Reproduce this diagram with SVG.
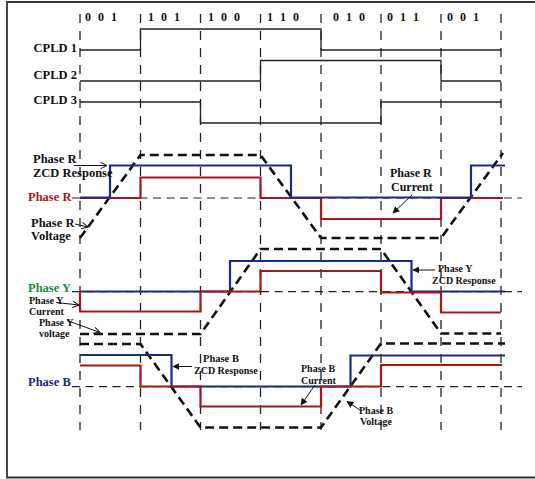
<svg xmlns="http://www.w3.org/2000/svg" width="535" height="479" viewBox="0 0 535 479">
<defs>
<style>
text{font-family:"Liberation Serif","Times New Roman",serif;font-weight:bold;fill:#111}
.dig{font-size:12px;letter-spacing:2px}
.lb{font-size:12.5px}
.sm{font-size:10px}
.grid{stroke:#222;stroke-width:1.3;stroke-dasharray:9 8;fill:none}
.axis{stroke:#222;stroke-width:1.2;stroke-dasharray:8 5.5;fill:none}
.cpld{stroke:#222;stroke-width:1.3;fill:none}
.zcd{stroke:#1c2a80;stroke-width:2.2;fill:none}
.cur{stroke:#a8161c;stroke-width:2.2;fill:none}
.volt{stroke:#111;stroke-width:2.6;stroke-dasharray:9 5;fill:none}
.ar{stroke:#111;stroke-width:1;fill:none}
.open{stroke:#111;stroke-width:1;fill:none}
</style>
<marker id="fh" viewBox="0 0 10 10" refX="9" refY="5" markerWidth="7" markerHeight="7" orient="auto" markerUnits="userSpaceOnUse">
<path d="M0,0 L10,5 L0,10 Z" fill="#111"/>
</marker>
<marker id="oh" viewBox="0 0 10 10" refX="9" refY="5" markerWidth="8" markerHeight="8" orient="auto" markerUnits="userSpaceOnUse">
<path d="M1,1 L9,5 L1,9" fill="none" stroke="#111" stroke-width="1.2"/>
</marker>
</defs>
<rect width="535" height="479" fill="#fff"/>
<g id="frame" stroke="#333" stroke-width="1.8" fill="none">
<path d="M535,2 H7 V477.5 H535"/>
</g>
<g id="grid">
<path class="grid" d="M80,14V430M140.5,14V430M200.5,14V430M260.5,14V430M321,14V430M381,14V430M441,14V430M501,14V430"/>
<path class="axis" d="M72,198H522M72,291.7H522M72,386.7H522"/>
</g>
<g id="states">
<text class="dig" x="85" y="21">0 0 1</text>
<text class="dig" x="148" y="21">1 0 1</text>
<text class="dig" x="208" y="21">1 0 0</text>
<text class="dig" x="267" y="21">1 1 0</text>
<text class="dig" x="333" y="21">0 1 0</text>
<text class="dig" x="387" y="21">0 1 1</text>
<text class="dig" x="447" y="21">0 0 1</text>
</g>
<g id="cpld1">
<text class="lb" x="77" y="52" text-anchor="end">CPLD 1</text>
<path class="cpld" d="M80,50H140.5V29H321V50H501"/>
</g>
<g id="cpld2">
<text class="lb" x="77" y="79" text-anchor="end">CPLD 2</text>
<path class="cpld" d="M80,81H260.5V60.5H441V81H501"/>
</g>
<g id="cpld3">
<text class="lb" x="77" y="104" text-anchor="end">CPLD 3</text>
<path class="cpld" d="M80,102H200.5V123H381V102H501"/>
</g>
<g id="phaseR">
<path class="volt" d="M80,238L140.5,155H260.5L321,238H441L503,153"/>
<path class="cur" d="M80,198H140.5V177.5H260.5V198H321V219H441V198H503"/>
<path class="zcd" d="M80,197.5H110V165.5H291V197.5H471V165.5H505"/>
<text class="lb" x="33" y="163">Phase R</text>
<text class="lb" x="33" y="177">ZCD Response</text>
<text class="lb" x="28" y="201" style="fill:#a8161c">Phase R</text>
<text class="lb" x="31" y="227">Phase R</text>
<text class="lb" x="31" y="240">Voltage</text>
<text class="lb" x="390" y="177" style="font-size:12px">Phase R</text>
<text class="lb" x="391" y="190.5" style="font-size:12px">Current</text>
</g>
<g id="phaseY">
<path class="volt" d="M80,334H200.5L260.5,249H381L441,333.5H501"/>
<path class="zcd" d="M80,291.5H230V261H411.5V291.5H505"/>
<path class="cur" d="M80,291.5V311.5H200.5V291.5H260.5V271H381V292.5H441V312.5H501"/>
<text class="lb" x="28" y="291.5" style="fill:#1a8a3c">Phase Y</text>
<text class="sm" x="29" y="303.5">Phase Y</text>
<text class="sm" x="29" y="314.5">Current</text>
<text class="sm" x="39" y="326">Phase Y</text>
<text class="sm" x="39" y="336.5">voltage</text>
<text class="sm" x="438" y="272">Phase Y</text>
<text class="sm" x="432" y="284">ZCD Response</text>
</g>
<g id="phaseB">
<path class="volt" d="M80,344H140.5L200.5,427.5H321L381,343.5H505"/>
<path class="zcd" d="M80,355H171.5V386.5H350.5V355.5H505"/>
<path class="cur" d="M80,365.5H140.5V386.5H200.5V406.5H321V386.5H381V365H502"/>
<text class="lb" x="28" y="386" style="fill:#1c2a80">Phase B</text>
<text class="sm" x="203" y="362" style="font-size:10.5px">Phase B</text>
<text class="sm" x="194" y="374">ZCD Response</text>
<text class="sm" x="301" y="372">Phase B</text>
<text class="sm" x="301" y="383.5">Current</text>
<text class="sm" x="359" y="413.5">Phase B</text>
<text class="sm" x="360" y="425">Voltage</text>
</g>
<g id="connectors">
<path class="open" d="M74,165.5H107" marker-end="url(#oh)"/>
<path class="open" d="M75,224L88,227" marker-end="url(#oh)"/>
<path class="ar" d="M412,195L393,213" marker-end="url(#fh)"/>
<path class="open" d="M56,302.5L79,305" marker-end="url(#oh)"/>
<path class="open" d="M67,320.5L100,332.5" marker-end="url(#oh)"/>
<path class="ar" d="M435,270H413" marker-end="url(#fh)"/>
<path class="ar" d="M192,366.5H173" marker-end="url(#fh)"/>
<path class="ar" d="M315,385L301,405" marker-end="url(#fh)"/>
<path class="ar" d="M360,410L347,401.5" marker-end="url(#fh)"/>
</g>
</svg>
